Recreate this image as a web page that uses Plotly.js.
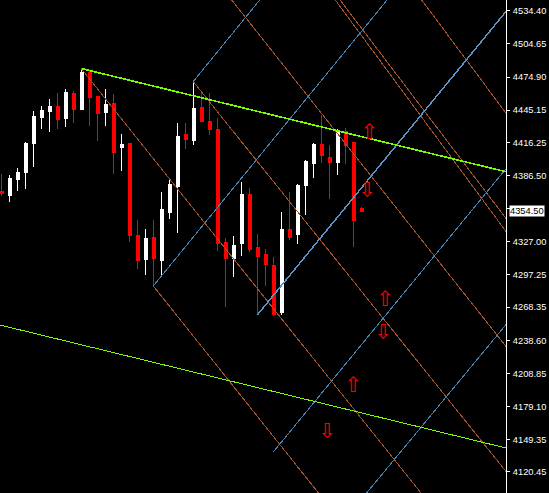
<!DOCTYPE html>
<html>
<head>
<meta charset="utf-8">
<script src="https://cdn.plot.ly/plotly-3.0.1.min.js"></script>
<style>
  html, body { margin: 0; padding: 0; background: #000; }
  #chart { width: 549px; height: 493px; }
  .scatterlayer path.js-line { shape-rendering: crispEdges; }
  .boxlayer path { shape-rendering: crispEdges; }
</style>
</head>
<body>
<div id="chart"></div>
<script>
// ---- candle data (bar index, OHLC) ----
const barIndex = [0,1,2,3,4,5,6,7,8,9,10,11,12,13,14,15,16,17,18,19,20,21,22,23,24,25,26,27,28,29,30,31,32,33,34,35,36,37,38,39,40,41,42,43,44,45];
const openPx  = [4372.6,4368.4,4382.5,4389.0,4415.1,4438.4,4443.8,4448.0,4437.5,4460.5,4445.6,4478.5,4457.0,4442.9,4450.7,4411.5,4414.8,4333.1,4310.7,4331.3,4309.8,4352.9,4376.2,4422.9,4417.5,4447.1,4435.4,4428.2,4326.8,4311.6,4325.9,4369.9,4321.5,4315.2,4306.2,4263.4,4338.5,4334.0,4377.1,4397.7,4413.9,4403.1,4398.6,4425.6,4415.7,4357.0];
const highPx  = [4387.9,4387.0,4393.3,4416.6,4444.4,4448.9,4455.2,4460.5,4464.1,4462.3,4482.4,4480.3,4457.9,4464.1,4459.7,4423.8,4415.5,4346.6,4338.5,4346.6,4371.7,4383.4,4433.6,4433.6,4470.9,4460.5,4460.5,4438.1,4330.4,4332.2,4380.7,4375.3,4334.0,4320.6,4313.4,4353.8,4371.7,4378.9,4400.4,4415.7,4440.8,4413.9,4428.2,4429.1,4416.6,4358.3];
const lowPx   = [4368.4,4363.0,4372.9,4374.7,4394.4,4428.5,4425.8,4428.5,4430.3,4433.9,4445.0,4431.2,4417.7,4431.2,4388.1,4390.8,4327.1,4302.6,4297.2,4287.4,4297.2,4347.5,4334.9,4410.3,4413.9,4434.5,4422.9,4318.8,4268.5,4295.4,4314.3,4318.0,4261.3,4287.4,4260.4,4261.5,4328.6,4325.0,4351.1,4384.3,4397.7,4365.4,4387.0,4396.8,4322.4,4354.5];
const closePx = [4370.2,4383.4,4388.8,4414.8,4439.9,4444.4,4448.0,4437.2,4461.4,4445.6,4478.5,4456.3,4442.0,4449.8,4407.0,4413.9,4332.5,4309.8,4330.4,4311.6,4355.6,4378.0,4421.1,4418.4,4446.2,4435.4,4428.2,4325.9,4311.6,4323.3,4369.9,4319.7,4313.4,4307.1,4262.2,4338.5,4331.3,4377.1,4399.5,4413.9,4404.9,4398.6,4425.6,4413.0,4345.7,4354.5];

// ---- axis ticks (the 4356.75 level sits under the price box) ----
const tickValues = [4534.40,4504.65,4474.90,4445.15,4416.25,4386.50,4356.75,4327.00,4297.25,4268.35,4238.60,4208.85,4179.10,4149.35,4120.45];
const tickLabels = ["4534.40","4504.65","4474.90","4445.15","4416.25","4386.50","","4327.00","4297.25","4268.35","4238.60","4208.85","4179.10","4149.35","4120.45"];
const lastPrice = 4354.50;

// ---- trend channel (green) : start / end points ----
const greenX0 = [10, -1];
const greenY0 = [4482.4, 4253.7];
const greenX1 = [64, 64];
const greenY1 = [4388.2, 4140.3];

// ---- rising grid lines (blue) ----
const blueX0 = [23.95, 18.95, 33.95, 45, 31.95];
const blueY0 = [4470.9, 4287.4, 4138.4, 4096.3, 4261.3];
const blueX1 = [33, 50, 64, 64, 64];
const blueY1 = [4550.6, 4560.0, 4401.0, 4261.0, 4542.1];

// ---- falling grid lines (brown) ----
const brownX0 = [9.95, 18.95, 23.95, 27, 41.7, 42.29, 52.5];
const brownY0 = [4482.4, 4287.4, 4470.7, 4559.9, 4544.0, 4544.0, 4544.0];
const brownX1 = [53, 40, 64, 64, 64, 64, 64];
const brownY1 = [4096.4, 4098.0, 4112.3, 4224.4, 4326.9, 4338.9, 4433.2];

// ---- signal arrows ----
const upArrowX = [45.97, 47.95, 43.95];
const upArrowY = [4424.2, 4273.9, 4196.7];
const downArrowX = [45.7, 47.7, 40.7];
const downArrowY = [4372.0, 4244.6, 4155.7];

function segTrace(x0, y0, x1, y1, color, width) {
  const xs = [], ys = [];
  for (let i = 0; i < x0.length; i++) {
    xs.push(x0[i], x1[i], null);
    ys.push(y0[i], y1[i], null);
  }
  return { type: 'scatter', mode: 'lines', x: xs, y: ys,
           line: { color: color, width: width }, hoverinfo: 'skip', showlegend: false };
}

const traces = [];
traces.push(segTrace(brownX0, brownY0, brownX1, brownY1, '#a0522d', 1));
traces.push(segTrace(blueX0.slice(0,4), blueY0.slice(0,4), blueX1.slice(0,4), blueY1.slice(0,4), '#4682b4', 1));
traces.push(segTrace(blueX0.slice(4), blueY0.slice(4), blueX1.slice(4), blueY1.slice(4), '#5b93c8', 1.5));
traces.push(segTrace(greenX0.slice(0,1), greenY0.slice(0,1), greenX1.slice(0,1), greenY1.slice(0,1), '#7cfc00', 1.6));
traces.push(segTrace(greenX0.slice(1), greenY0.slice(1), greenX1.slice(1), greenY1.slice(1), '#7cfc00', 1));

traces.push({
  type: 'candlestick', x: barIndex, open: openPx, high: highPx, low: lowPx, close: closePx,
  increasing: { line: { color: '#ffffff', width: 1 }, fillcolor: '#ffffff' },
  decreasing: { line: { color: '#ff0000', width: 1 }, fillcolor: '#ff0000' },
  whiskerwidth: 0, hoverinfo: 'skip', showlegend: false
});

traces.push({
  type: 'scatter', mode: 'text', x: upArrowX, y: upArrowY,
  text: upArrowX.map(() => '\u21E7'),
  textfont: { family: 'DejaVu Sans', size: 21, color: '#ff0000' },
  hoverinfo: 'skip', showlegend: false
});
traces.push({
  type: 'scatter', mode: 'text', x: downArrowX, y: downArrowY,
  text: downArrowX.map(() => '\u21E9'),
  textfont: { family: 'DejaVu Sans', size: 21, color: '#ff0000' },
  hoverinfo: 'skip', showlegend: false
});

const layout = {
  width: 549, height: 493,
  margin: { l: 0, r: 43, t: 0, b: 0, pad: 0 },
  paper_bgcolor: '#000000', plot_bgcolor: '#000000',
  showlegend: false,
  boxgap: 0.5,
  xaxis: {
    range: [-0.2125, 63.04], showgrid: false, zeroline: false,
    showticklabels: false, showline: false, ticks: '',
    rangeslider: { visible: false }, fixedrange: true
  },
  yaxis: {
    range: [4101.6, 4544.0], side: 'right', showgrid: false, zeroline: false,
    showline: true, linecolor: '#ffffff', linewidth: 1,
    ticks: 'outside', ticklen: 3, tickcolor: '#ffffff', tickwidth: 1,
    tickmode: 'array', tickvals: tickValues, ticktext: tickLabels,
    tickfont: { family: 'Liberation Sans', size: 9.3, color: '#ffffff' },
    ticklabelstandoff: 1, fixedrange: true
  },
  annotations: [{
    xref: 'paper', yref: 'y', x: 1, y: lastPrice, xanchor: 'left', yanchor: 'middle',
    xshift: 3, text: lastPrice.toFixed(2), showarrow: false,
    bgcolor: '#ffffff', borderpad: 0,
    font: { family: 'Liberation Sans', size: 9.3, color: '#000000' }
  }]
};

Plotly.newPlot('chart', traces, layout, { staticPlot: true, displayModeBar: false });
</script>
</body>
</html>
